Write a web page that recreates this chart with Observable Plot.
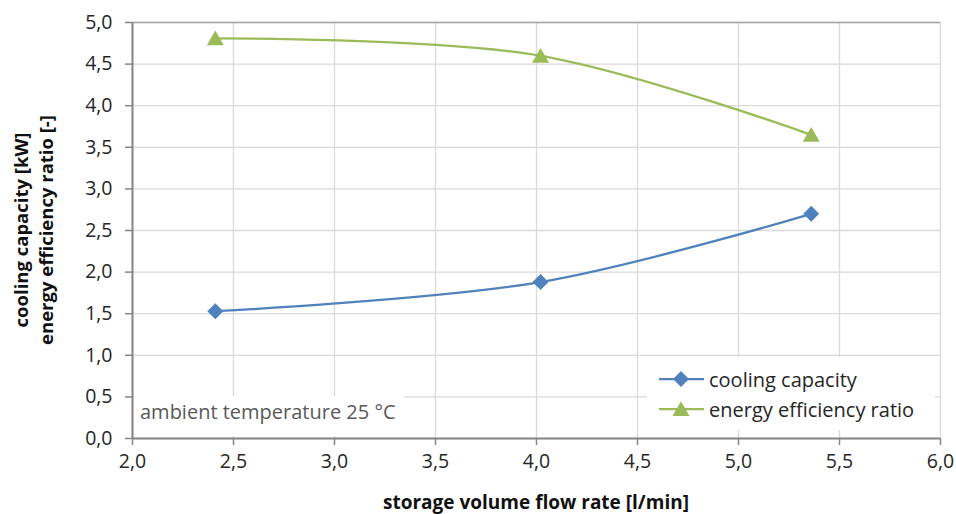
<!DOCTYPE html>
<html>
<head>
<meta charset="utf-8">
<script src="https://cdn.jsdelivr.net/npm/d3@7"></script>
<script src="https://cdn.jsdelivr.net/npm/@observablehq/plot@0.6"></script>
<style>
  html, body { margin: 0; padding: 0; background: #fff; }
  #chart { width: 956px; height: 514px; }
</style>
</head>
<body>
<div id="chart"></div>
<script>
// ---- data ----
const flowRate = [2.41, 4.02, 5.36];             // storage volume flow rate [l/min]
const coolingCapacity = [1.53, 1.88, 2.70];      // cooling capacity [kW]
const energyEfficiencyRatio = [4.81, 4.60, 3.65]; // EER [-]
const seriesNames = ["cooling capacity", "energy efficiency ratio"];
const xTicks = [2.0, 2.5, 3.0, 3.5, 4.0, 4.5, 5.0, 5.5, 6.0];
const yTicks = [0.0, 0.5, 1.0, 1.5, 2.0, 2.5, 3.0, 3.5, 4.0, 4.5, 5.0];
const xLabel = "storage volume flow rate [l/min]";
const yLabelLines = ["cooling capacity [kW]", "energy efficiency ratio [-]"];
const annotation = "ambient temperature 25 °C";

const blue = "#4f81bd", green = "#9bbb59";
const FONT = "'Open Sans', Lato, sans-serif";
const fmt = d => d.toFixed(1).replace(".", ",");

const cc = flowRate.map((x, i) => ({x, y: coolingCapacity[i]}));
const er = flowRate.map((x, i) => ({x, y: energyEfficiencyRatio[i]}));

const W = 956, H = 514;
const chart = Plot.plot({
  width: W, height: H,
  marginLeft: 132, marginRight: 16, marginTop: 22, marginBottom: 76,
  style: {fontFamily: FONT, fontSize: "19px", color: "#333", background: "#fff", overflow: "visible"},
  x: {domain: [2, 6], ticks: xTicks, tickFormat: fmt, label: null},
  y: {domain: [0, 5], ticks: yTicks, tickFormat: fmt, label: null},
  marks: [
    Plot.gridX(xTicks, {stroke: "#d9d9d9", strokeOpacity: 1, strokeWidth: 1.3}),
    Plot.gridY(yTicks, {stroke: "#d9d9d9", strokeOpacity: 1, strokeWidth: 1.3}),
    Plot.ruleY([5], {stroke: "#a6a6a6", strokeWidth: 1.5}),
    Plot.axisX(xTicks, {tickSize: 7, tickPadding: 9, stroke: "#868686", strokeWidth: 1.5, fill: "#262626", tickFormat: fmt, fontSize: 19}),
    Plot.axisY(yTicks, {tickSize: 7, tickPadding: 13, stroke: "#868686", strokeWidth: 1.5, fill: "#262626", tickFormat: fmt, fontSize: 19}),
    Plot.ruleX([2], {stroke: "#868686", strokeWidth: 2}),
    Plot.ruleY([0], {stroke: "#868686", strokeWidth: 2}),
    Plot.line(cc, {x: "x", y: "y", stroke: blue, strokeWidth: 2.25, curve: "catmull-rom"}),
    Plot.line(er, {x: "x", y: "y", stroke: green, strokeWidth: 2.25, curve: "catmull-rom"}),
    Plot.dot(cc, {x: "x", y: "y", symbol: "diamond2", r: 7.2, fill: blue, stroke: "none"}),
    Plot.dot(er, {x: "x", y: "y", symbol: "triangle", r: 6.3, fill: green, stroke: "none", dy: 2})
  ]
});
document.getElementById("chart").appendChild(chart);

// ---- overlays: axis titles, annotation box, legend ----
const svg = d3.select(chart);
// the only texts so far are the tick labels: give them the intended size
svg.selectAll("text").style("font-size", "19.5px").style("font-family", FONT);

const plotCx = (132 + (W - 16)) / 2, plotCy = (22 + (H - 76)) / 2;

svg.append("text").attr("x", plotCx).attr("y", 502)
  .attr("text-anchor", "middle").attr("dominant-baseline", "central").attr("font-family", FONT).attr("font-weight", "bold").attr("font-size", 19)
  .attr("fill", "#111").text(xLabel);

yLabelLines.forEach((t, i) => {
  svg.append("text")
    .attr("transform", `translate(${20 + i * 25},${plotCy}) rotate(-90)`)
    .attr("text-anchor", "middle").attr("dominant-baseline", "central")
    .attr("font-family", FONT).attr("font-weight", "bold").attr("font-size", 18.5).attr("fill", "#111").text(t);
});

// annotation
svg.append("rect").attr("x", 134).attr("y", 396).attr("width", 270).attr("height", 40).attr("fill", "#fff");
svg.append("text").attr("x", 140).attr("y", 411).attr("text-anchor", "start").attr("dominant-baseline", "central")
  .attr("font-family", FONT).attr("font-size", 20).attr("fill", "#595959").text(annotation);

// legend
svg.append("rect").attr("x", 647).attr("y", 357).attr("width", 288).attr("height", 73).attr("fill", "#fff");
const legendItems = [
  {name: seriesNames[0], color: blue, symbol: d3.symbolDiamond2, size: Math.PI * 7.2 * 7.2, dy: 0},
  {name: seriesNames[1], color: green, symbol: d3.symbolTriangle, size: Math.PI * 6.3 * 6.3, dy: 2}
];
legendItems.forEach((it, i) => {
  const y = 379 + i * 30;
  const g = svg.append("g");
  g.append("line").attr("x1", 659).attr("x2", 704).attr("y1", y).attr("y2", y)
    .attr("stroke", it.color).attr("stroke-width", 2.25);
  g.append("path").attr("d", d3.symbol(it.symbol, it.size)())
    .attr("transform", `translate(681,${y + it.dy})`).attr("fill", it.color);
  g.append("text").attr("x", 709).attr("y", y).attr("text-anchor", "start").attr("dominant-baseline", "central")
    .attr("font-family", FONT).attr("font-size", 20).attr("fill", "#262626").text(it.name);
});
</script>
</body>
</html>
